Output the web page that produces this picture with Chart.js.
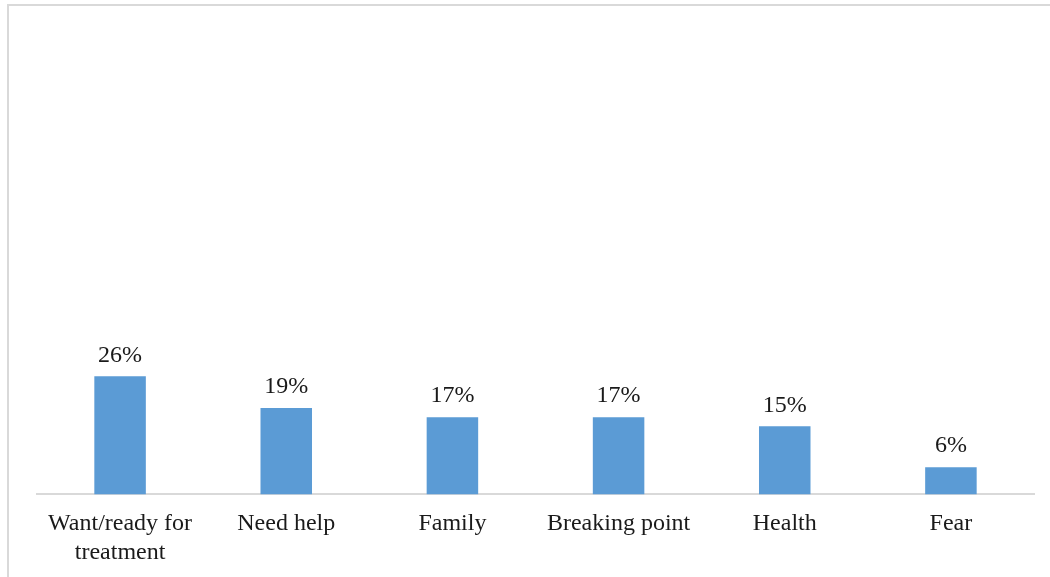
<!DOCTYPE html>
<html>
<head>
<meta charset="utf-8">
<script src="https://cdn.jsdelivr.net/npm/chart.js@4/dist/chart.umd.min.js"></script>
<style>
  html, body { margin: 0; padding: 0; background: #fff; }
  #wrap { position: relative; width: 1050px; height: 577px; }
</style>
</head>
<body>
<div id="wrap"><canvas id="c" width="1050" height="577"></canvas></div>
<script>
// Reasons given for seeking treatment (share of respondents, %)
const categories = [["Want/ready for", "treatment"], "Need help", "Family", "Breaking point", "Health", "Fear"];
const shares = [26, 19, 17, 17, 15, 6];
const valueLabels = ["26%", "19%", "17%", "17%", "15%", "6%"];

const FONT = "'Liberation Serif', 'Times New Roman', serif";

// Light frame around the chart area
const framePlugin = {
  id: 'frame',
  beforeDraw(chart) {
    const ctx = chart.ctx;
    ctx.save();
    ctx.fillStyle = '#fff';
    ctx.fillRect(0, 0, chart.width, chart.height);
    ctx.strokeStyle = '#d9d9d9';
    ctx.lineWidth = 2;
    ctx.beginPath();
    ctx.moveTo(8, chart.height);
    ctx.lineTo(8, 5);
    ctx.lineTo(chart.width, 5);
    ctx.stroke();
    ctx.restore();
  }
};

// Value labels above each bar
const valueLabelPlugin = {
  id: 'valueLabels',
  afterDatasetsDraw(chart) {
    const ctx = chart.ctx;
    const meta = chart.getDatasetMeta(0);
    ctx.save();
    ctx.font = '24px ' + FONT;
    ctx.fillStyle = '#1a1a1a';
    ctx.textAlign = 'center';
    ctx.textBaseline = 'middle';
    meta.data.forEach((bar, i) => {
      ctx.fillText(valueLabels[i], bar.x, bar.y - 21);
    });
    ctx.restore();
  }
};

new Chart(document.getElementById('c'), {
  type: 'bar',
  data: {
    labels: categories,
    datasets: [{
      data: shares,
      backgroundColor: '#5b9bd5',
      borderWidth: 0,
      categoryPercentage: 1,
      barPercentage: 0.31
    }]
  },
  options: {
    responsive: false,
    animation: false,
    layout: { padding: { left: 37, right: 16, top: 40, bottom: -5 } },
    plugins: {
      legend: { display: false },
      tooltip: { enabled: false }
    },
    scales: {
      x: {
        grid: { display: false, drawTicks: false },
        border: { display: true, color: '#d9d9d9', width: 2 },
        ticks: {
          color: '#1a1a1a',
          font: { family: FONT, size: 24, lineHeight: 1.2 },
          padding: 15,
          maxRotation: 0,
          autoSkip: false
        }
      },
      y: {
        display: false,
        min: 0,
        max: 100
      }
    }
  },
  plugins: [framePlugin, valueLabelPlugin]
});
</script>
</body>
</html>
